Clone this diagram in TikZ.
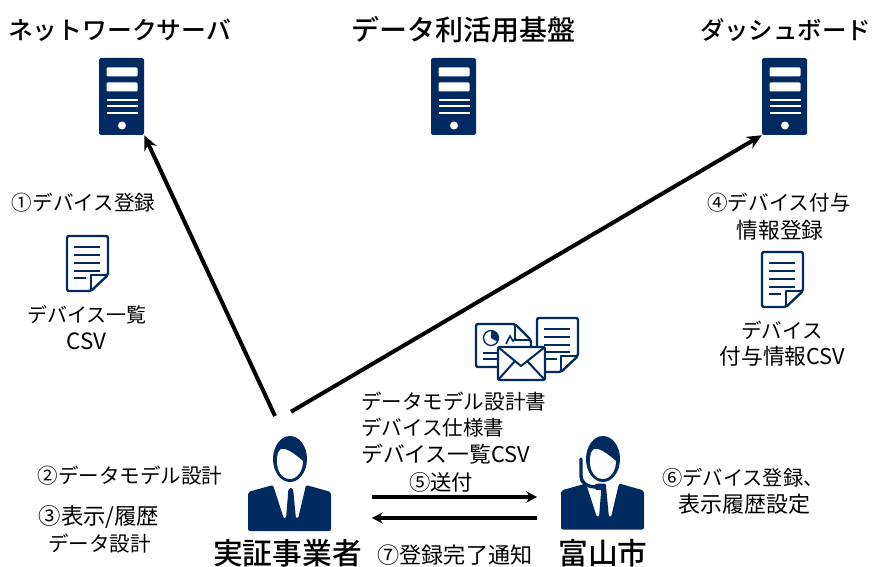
\documentclass[tikz,border=0pt]{standalone}
\usepackage{fontspec}
\setmainfont{Noto Sans CJK JP}
\newfontfamily\heavyfont{Noto Sans CJK JP Medium}
\usetikzlibrary{arrows.meta}
\definecolor{navy}{HTML}{002A60}
\tikzset{
  x=0.75pt,y=-0.75pt,
  title/.style={font=\heavyfont\fontsize{#1}{22}\selectfont,inner sep=0pt,text=black},
  big/.style={font=\heavyfont\fontsize{22.3}{25}\selectfont,inner sep=0pt,text=black},
  lbl/.style={font=\fontsize{#1}{19.5}\selectfont,inner sep=0pt,align=center,text=black},
  lbl/.default=15.4,
  server/.style={fill=navy,rounded corners=1.2pt,minimum width=33.75pt,minimum height=57.75pt,inner sep=0pt},
  person/.style={minimum width=63pt,minimum height=89.25pt,inner sep=0pt},
  arrowline/.style={line width=3pt,-{Stealth[length=11pt,width=10pt]}},
  flowline/.style={line width=2.8pt,-{Stealth[length=8pt,width=8.5pt]}},
  icon/.style={draw=navy,line width=1.8pt,rounded corners=1.5pt,fill=white,line join=round},
  iconline/.style={draw=navy,line width=1.2pt},
  pics/srvd/.style={code={
    \fill[white,rounded corners=0.8pt] (-15,-29) rectangle (16,-20);
    \fill[white,rounded corners=0.8pt] (-15,-14) rectangle (16,-5);
    \fill[white] (-15,3) rectangle (16,5);
    \fill[white] (-15,9) rectangle (16,11);
    \fill[white] (-15,16) rectangle (16,18);
    \fill[white] (0.5,29) circle (3pt);
  }},
  pics/docd/.style={code={
    \draw[icon] (0,0) -- (0,55) -- (24,55) -- (41,39) -- (41,0) -- cycle;
    \draw[iconline] (7,11) -- (33,11) (7,19) -- (33,19) (7,27) -- (33,27) (7,35) -- (33,35) (7,42) -- (19,42);
    \draw[draw=navy,line width=1.5pt,line join=round] (24,55) -- (24,39) -- (41,39);
  }},
  pics/body/.style={code={
    \fill[navy,rounded corners=1.5pt] (-42,33) -- (-17,26) -- (-6,60) -- (-4,60) -- (-1.5,29) -- (3,29) -- (6,60) -- (8,60) -- (16,26) -- (41,33) -- (41,72) -- (-42,72) -- cycle;
  }},
  pics/head/.style={code={
    \fill[navy] (0,0) ellipse [x radius=17,y radius=23];
    \fill[white] (-12,-6) .. controls (-10,-10) and (-8,-11) .. (-5,-10)
      .. controls (1,-8) and (7,-3) .. (13,2)
      .. controls (13,12) and (7,20) .. (0,20)
      .. controls (-8,20) and (-13,12) .. (-13,3)
      .. controls (-13,-1) and (-13,-3) .. cycle;
  }},
}
\begin{document}
\begin{tikzpicture}
\useasboundingbox (0,0) rectangle (872,567);
\clip (0,0) rectangle (872,567);
% servers
\node[server] (srv1) at (121.5,96.5) {};
\node[server] (srv2) at (453.5,96.5) {};
\node[server] (srv3) at (784.5,96.5) {};
\pic at (srv1.center) {srvd};
\pic at (srv2.center) {srvd};
\pic at (srv3.center) {srvd};
% titles
\node[title=18.6] (t1) at (119.5,30) {ネットワークサーバ};
\node[title=21] (t2) at (463.5,30) {データ利活用基盤};
\node[title=18.3] (t3) at (785.5,30) {ダッシュボード};
% documents
\pic at (67,236) {docd};
\pic at (762,252) {docd};
% group icon: rear document
\draw[icon] (476,324) -- (476,367) -- (531,367) -- (531,340) -- (515,324) -- cycle;
\draw[draw=navy,line width=1.5pt,line join=round] (515,324) -- (515,340) -- (531,340);
\draw[navy,line width=1pt] (491,338) circle (7.5);
\fill[navy] (491,338) -- (491,330.5) arc (-90:30:7.5) -- cycle;
\draw[iconline] (506,344) -- (510,336) -- (513,341) -- (516,338);
\draw[iconline] (483,353) -- (497,353) (483,359) -- (497,359);
% group icon: right document
\draw[icon] (537,318) -- (537,372) -- (561,372) -- (578,356) -- (578,318) -- cycle;
\draw[iconline] (544,329) -- (570,329) (544,337) -- (570,337) (544,345) -- (570,345) (544,352) -- (570,352) (544,359) -- (557,359);
\draw[draw=navy,line width=1.5pt,line join=round] (561,372) -- (561,356) -- (578,356);
% group icon: envelope
\draw[icon] (498,347) rectangle (545,380);
\draw[draw=navy,line width=1.5pt,line join=round] (498,347) -- (521,366) -- (545,347) (498,380) -- (515,361) (545,380) -- (527,361);
% people
\node[person] (p1) at (291,471.5) {};
\node[person] (p2) at (604,471.5) {};
\pic at (290,459) {body};
\pic at (290,459) {head};
\pic at (603,457.5) {body};
\pic at (603,459) {head};
\draw[navy,line width=2.6pt,line cap=round] (581,459) -- (581,476) .. controls (581,483) and (587,487) .. (597,487);
\fill[navy,rounded corners=1pt] (595,483.5) rectangle (606,490);
\coordinate (p1a) at (275,416);
\coordinate (f1s) at (372,497);
\coordinate (f1e) at (537,497);
\coordinate (f2s) at (537,518);
\coordinate (f2e) at (372,518);
% connectors
\draw[arrowline] (p1a) -- (srv1.south east);
\draw[arrowline] (p1.north) -- (srv3.south west);
\draw[flowline] (f1s) -- (f1e);
\draw[flowline] (f2s) -- (f2e);
% labels
\node[lbl] (l1) at (83.5,203) {①デバイス登録};
\node[lbl=15] (l2a) at (87,315) {デバイス一覧};
\node[lbl=16.8] (l2b) at (86.5,341) {CSV};
\node[lbl] (l3) at (779,203) {④デバイス付与};
\node[lbl=16.3] (l4) at (780,230) {情報登録};
\node[lbl=15.4] (l5a) at (782,330) {デバイス};
\node[lbl=16.3] (l5b) at (782.5,356) {付与情報CSV};
\node[lbl,anchor=west] (l6) at (361,402) {データモデル設計書};
\node[lbl,anchor=west] (l7) at (361,428) {デバイス仕様書};
\node[lbl=16.3,anchor=west] (l8) at (361,454) {デバイス一覧CSV};
\node[lbl=16] (l9) at (441,482) {⑤送付};
\node[lbl] (l10) at (130,476) {②データモデル設計};
\node[lbl=16.8] (l11) at (99,517) {③表示/履歴};
\node[lbl] (l12) at (99.5,544) {データ設計};
\node[lbl=15.2] (l13) at (743,478) {⑥デバイス登録、};
\node[lbl=16.5] (l14) at (744.5,504) {表示履歴設定};
\node[lbl=16.6] (l15) at (455,555.5) {⑦登録完了通知};
\node[big] (n1) at (287.5,553) {実証事業者};
\node[big] (n2) at (603,553) {富山市};
\end{tikzpicture}
\end{document}
